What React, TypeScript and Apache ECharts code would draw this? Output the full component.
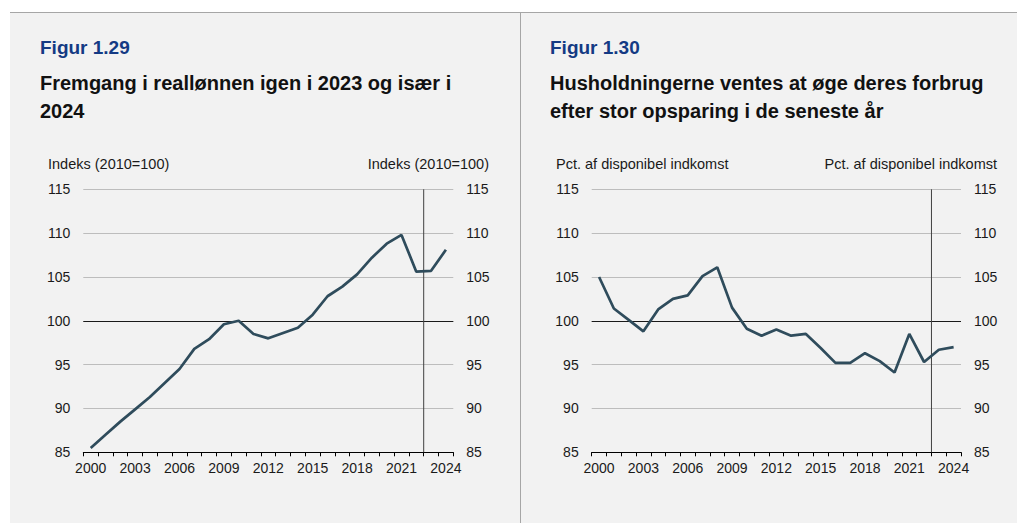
import React, { useEffect, useRef } from "react";
import * as echarts from "echarts";

const years = [
  "2000", "2001", "2002", "2003", "2004", "2005", "2006", "2007", "2008", "2009",
  "2010", "2011", "2012", "2013", "2014", "2015", "2016", "2017", "2018", "2019",
  "2020", "2021", "2022", "2023", "2024",
];

// Figur 1.29: real wage index (2010=100)
const realWageIndex = [
  85.5, 87.0, 88.5, 89.9, 91.3, 92.9, 94.5, 96.8, 97.9, 99.6,
  100.0, 98.5, 98.0, 98.6, 99.2, 100.7, 102.8, 103.9, 105.3, 107.2,
  108.8, 109.8, 105.6, 105.7, 108.1,
];

// Figur 1.30: consumption, pct. of disposable income
const consumptionShare = [
  105.0, 101.4, 100.1, 98.8, 101.3, 102.5, 102.9, 105.1, 106.1, 101.5,
  99.1, 98.3, 99.0, 98.3, 98.5, 96.9, 95.2, 95.2, 96.3, 95.4,
  94.1, 98.5, 95.3, 96.7, 97.0,
];

const yMin = 85;
const yMax = 115;
const yStep = 5;
const refLevel = 100;
const forecastBoundary = 23; // boundary between 2022 and 2023 categories

const titles = [
  { fig: "Figur 1.29", sub: "Fremgang i reallønnen igen i 2023 og især i\n2024", unit: "Indeks (2010=100)" },
  { fig: "Figur 1.30", sub: "Husholdningerne ventes at øge deres forbrug\nefter stor opsparing i de seneste år", unit: "Pct. af disponibel indkomst" },
];

const FONT = "'Liberation Sans', Arial, sans-serif";
const LINE_COLOR = "#2f4c5c";
const TEXT_COLOR = "#1a1a1a";

export default function App() {
  const ref = useRef<HTMLDivElement>(null);

  useEffect(() => {
    if (!ref.current) return;
    const chart = echarts.init(ref.current, null, { renderer: "svg" });

    const grids = [
      { left: 83.3, top: 189.3, width: 370, height: 263 },
      { left: 591.7, top: 189.3, width: 369.3, height: 263 },
    ];

    const catAxis = (gridIndex: number) => ({
      type: "category",
      gridIndex,
      data: years,
      boundaryGap: true,
      axisLine: { show: true, lineStyle: { color: "#000", width: 1 } },
      axisTick: { show: true, interval: 0, length: 4, lineStyle: { color: "#000" } },
      axisLabel: { interval: 2, color: TEXT_COLOR, fontSize: 14, fontFamily: FONT, margin: 9 },
      splitLine: { show: false },
    });

    const valAxisX = (gridIndex: number) => ({
      type: "value",
      gridIndex,
      min: 0,
      max: years.length,
      show: false,
    });

    const yAxis = (gridIndex: number, position: "left" | "right") => ({
      type: "value",
      gridIndex,
      position,
      min: yMin,
      max: yMax,
      interval: yStep,
      axisLine: { show: false },
      axisTick: { show: false },
      axisLabel: { color: TEXT_COLOR, fontSize: 14, fontFamily: FONT, margin: 13 },
      splitLine: { show: position === "left", lineStyle: { color: "#bdbdbd", width: 1 } },
    });

    const lineSeries = (idx: number, data: number[]) => ({
      type: "line",
      xAxisIndex: idx,
      yAxisIndex: idx * 2,
      data,
      symbol: "none",
      lineStyle: { color: LINE_COLOR, width: 2.7 },
      z: 5,
      markLine: {
        silent: true,
        symbol: "none",
        label: { show: false },
        lineStyle: { color: "#1a1a1a", width: 1, type: "solid" },
        data: [{ yAxis: refLevel }],
        z: 3,
      },
    });

    const boundarySeries = (idx: number) => ({
      type: "line",
      xAxisIndex: 2 + idx,
      yAxisIndex: idx * 2,
      data: [
        [forecastBoundary, yMin],
        [forecastBoundary, yMax],
      ],
      symbol: "none",
      lineStyle: { color: "#404040", width: 1 },
      z: 4,
      silent: true,
    });

    const graphic: any[] = [
      { type: "rect", shape: { x: 10, y: 12, width: 1007, height: 511 }, style: { fill: "#f2f2f2" }, z: -10, silent: true },
      { type: "line", shape: { x1: 10, y1: 12.5, x2: 1017, y2: 12.5 }, style: { stroke: "#a6a6a6", lineWidth: 1 }, z: -5 },
      { type: "line", shape: { x1: 520.5, y1: 12, x2: 520.5, y2: 523 }, style: { stroke: "#a6a6a6", lineWidth: 1 }, z: -5 },
    ];

    const panelX = [40, 550];
    const unitL = [48, 556];
    const unitR = [489, 997];
    titles.forEach((t, i) => {
      graphic.push({
        type: "text", x: panelX[i], y: 47,
        style: { text: t.fig, fill: "#143a84", font: `bold 19px ${FONT}`, textVerticalAlign: "middle" },
      });
      graphic.push({
        type: "text", x: panelX[i], y: 69,
        style: { text: t.sub, fill: "#111", font: `bold 20px ${FONT}`, lineHeight: 28, textVerticalAlign: "top" },
      });
      graphic.push({
        type: "text", x: unitL[i], y: 164,
        style: { text: t.unit, fill: TEXT_COLOR, font: `14.5px ${FONT}`, textVerticalAlign: "middle" },
      });
      graphic.push({
        type: "text", x: unitR[i], y: 164,
        style: { text: t.unit, fill: TEXT_COLOR, font: `14.5px ${FONT}`, textAlign: "right", textVerticalAlign: "middle" },
      });
    });

    chart.setOption({
      animation: false,
      graphic,
      grid: grids,
      xAxis: [catAxis(0), catAxis(1), valAxisX(0), valAxisX(1)],
      yAxis: [yAxis(0, "left"), yAxis(0, "right"), yAxis(1, "left"), yAxis(1, "right")],
      series: [
        lineSeries(0, realWageIndex),
        lineSeries(1, consumptionShare),
        boundarySeries(0),
        boundarySeries(1),
      ],
    });

    return () => chart.dispose();
  }, []);

  return (
    <div
      ref={ref}
      style={{ position: "fixed", left: 0, top: 0, width: 1017, height: 523, background: "#fff" }}
    />
  );
}
